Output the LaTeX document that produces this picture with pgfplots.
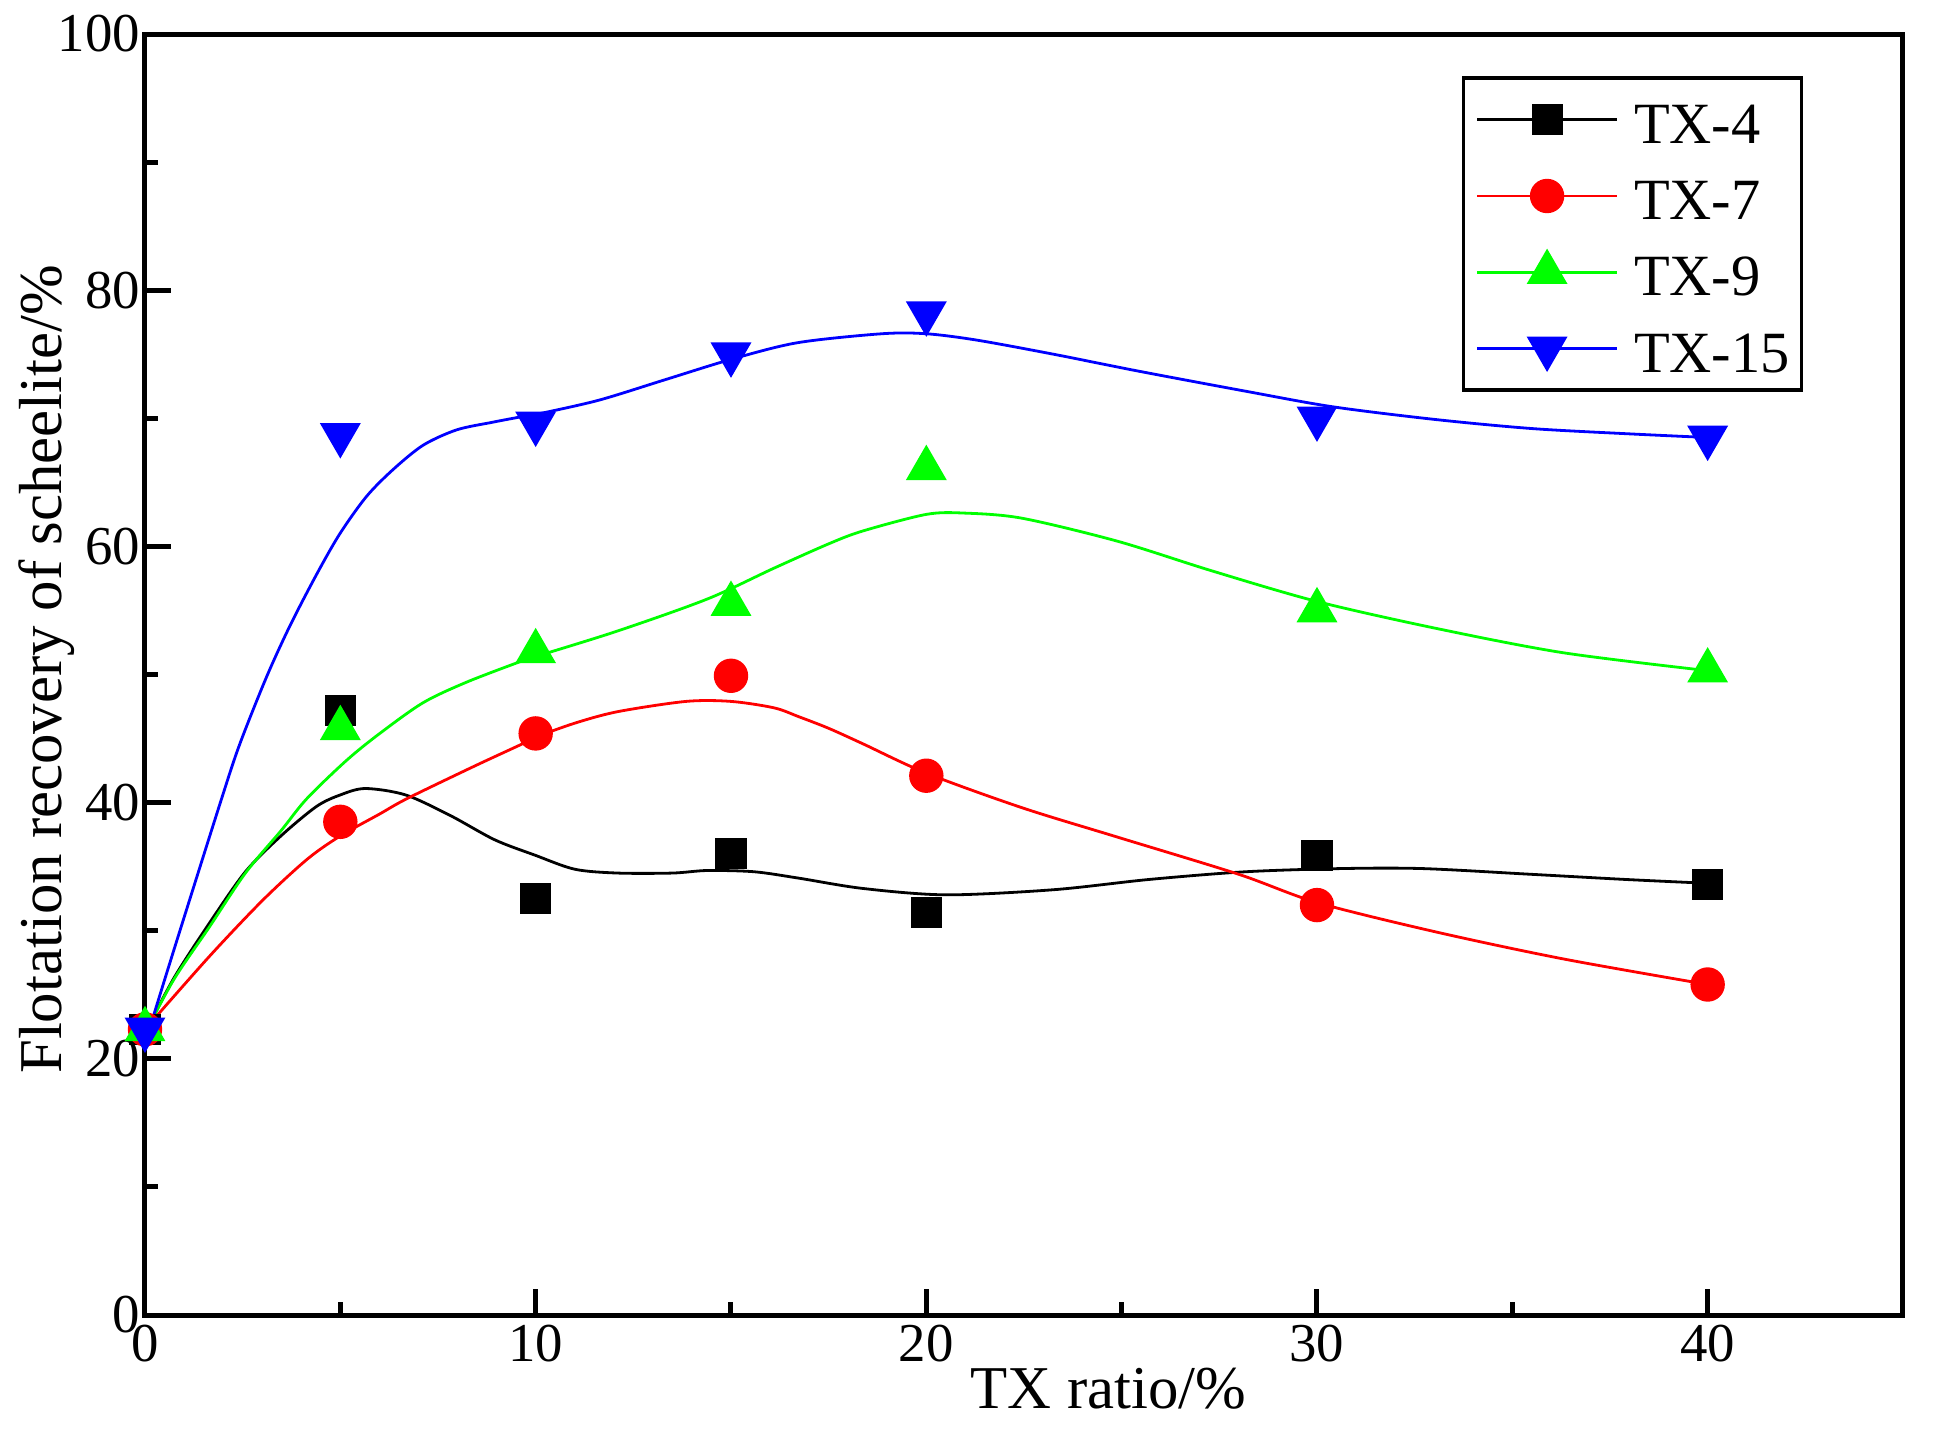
\documentclass[border=0pt]{standalone}
\usepackage{fontspec}
\setmainfont{Liberation Serif}
\usepackage{pgfplots}
\pgfplotsset{compat=1.18}
\definecolor{cgreen}{RGB}{0,255,0}
\definecolor{cred}{RGB}{255,0,0}
\definecolor{cblue}{RGB}{0,0,255}
\begin{document}
\begin{tikzpicture}
\useasboundingbox (-36.25pt,-28.25pt) rectangle (448.75pt,328.75pt);
\begin{axis}[
  at={(0pt,0pt)}, anchor=south west,
  scale only axis, width=439.5pt, height=320.25pt,
  xmin=0, xmax=45, ymin=0, ymax=100,
  xtick={0,10,20,30,40}, minor xtick={5,15,25,35},
  ytick={0,20,40,60,80,100}, minor ytick={10,30,50,70,90},
  tick pos=left, tick align=inside,
  major tick length=6.5pt, minor tick length=3.3pt,
  tick style={line width=1.25pt, black},
  axis line style={line width=1.25pt},
  axis on top=true,
  /pgf/number format/assume math mode=true,
  ticklabel style={font=\fontsize{13.7}{16}\selectfont},
  xticklabel style={inner sep=0pt, yshift=-2.2pt},
  yticklabel style={inner sep=0pt, xshift=-1pt},
  xlabel={TX ratio/\%},
  ylabel={Flotation recovery of scheelite/\%},
  xlabel style={at={(axis description cs:0.548,0)}, anchor=base, yshift=-23.25pt, font=\fontsize{15.2}{18}\selectfont, inner sep=0pt},
  ylabel style={at={(axis description cs:0,0.504)}, anchor=base, yshift=20.75pt, font=\fontsize{15.2}{18}\selectfont, inner sep=0pt},
  legend image code/.code={\draw[mark repeat=2,mark phase=2,#1] plot coordinates {(0pt,0pt) (17.5pt,0pt) (35pt,0pt)};},
  legend style={at={(0.9434,0.9669)}, anchor=north east, draw=black, line width=0.85pt,
    font=\fontsize{14.6}{17}\selectfont, inner xsep=3pt, inner ysep=4.5pt,
    row sep=7.2pt, column sep=3.9pt,
    nodes={inner sep=0pt, text height=11.85pt, text depth=-1.85pt}},
  legend cell align=left,
]
% TX-4
\addplot[black, line width=0.7pt, smooth, forget plot] coordinates {
(0,22.0) (0.74,26.3) (1.65,30.6) (2.57,34.6) (3.48,37.4) (4.39,39.7) (5,40.6) (5.64,41.1) (6.67,40.6) (7.81,39.0) (8.95,37.1) (9.98,35.9) (11.0,34.8) (12.1,34.5) (13.5,34.5) (14.4,34.7) (15.6,34.6) (16.74,34.1) (18.37,33.3) (20.5,32.8) (23.26,33.2) (25.7,34.0) (28.16,34.6) (30.6,34.85) (32.7,34.85) (35.5,34.4) (37.9,34.0) (40,33.7)};
\addplot[only marks, forget plot, mark=square*, mark size=3.7pt, mark options={draw=black, fill=black, line width=0.4pt}] coordinates {
(0,22.3) (5,47.2) (10,32.5) (15,36.0) (20,31.4) (30,35.9) (40,33.6)};
% TX-7
\addplot[cred, line width=0.7pt, smooth, forget plot] coordinates {
(0,22.3) (1.65,28.0) (3.02,32.4) (4.16,35.6) (5,37.4) (6.0,39.1) (6.7,40.3) (8.4,42.8) (9.6,44.5) (10,45.1) (11.0,46.2) (12.1,47.1) (13.85,47.9) (15.0,47.9) (16.1,47.4) (16.74,46.7) (17.5,45.8) (18.37,44.6) (20,42.3) (22.45,39.6) (24.9,37.3) (28.0,34.4) (30,32.2) (33.05,29.9) (36.3,27.8) (40,25.8)};
\addplot[only marks, forget plot, mark=*, mark size=4.1pt, mark options={draw=cred, fill=cred, line width=0.4pt}] coordinates {
(0,22.3) (5,38.5) (10,45.4) (15,49.9) (20,42.1) (30,32.0) (40,25.8)};
% TX-9
\addplot[cgreen, line width=0.7pt, smooth, forget plot] coordinates {
(0,22.0) (0.74,26.2) (1.65,30.3) (2.57,34.5) (3.48,37.8) (4.14,40.3) (5.16,43.3) (6.01,45.4) (7.12,47.8) (8.23,49.4) (9.6,51.0) (10,51.4) (12.1,53.4) (14.4,55.9) (16.1,58.3) (17.5,60.2) (18.37,61.2) (20,62.5) (20.98,62.6) (22.45,62.2) (24.9,60.4) (27.3,58.1) (30,55.7) (33.05,53.6) (36.3,51.7) (40,50.3)};
\addplot[only marks, forget plot, mark=triangle*, mark size=5.5pt, mark options={draw=cgreen, fill=cgreen, line width=0.4pt}] coordinates {
(0,22.3) (5,45.8) (10,51.8) (15,55.5) (20,66.1) (30,55.0) (40,50.3)};
% TX-15
\addplot[cblue, line width=0.7pt, smooth, forget plot] coordinates {
(0,21.2) (0.74,28.5) (1.96,40.3) (2.43,44.6) (3.11,49.8) (3.71,53.8) (4.39,57.8) (4.99,61.0) (5.67,63.9) (6.35,66.0) (7.12,67.9) (7.98,69.1) (8.91,69.7) (9.6,70.1) (10,70.3) (11.6,71.4) (13.3,73.0) (15,74.6) (16.7,75.9) (18.86,76.6) (20,76.6) (21.3,76.1) (23.26,75.0) (25.4,73.7) (28.2,72.1) (30.4,70.9) (33.05,69.9) (35.5,69.2) (37.9,68.8) (40,68.5)};
\addplot[only marks, forget plot, mark=triangle*, mark size=5.5pt, mark options={draw=cblue, fill=cblue, line width=0.4pt, rotate=180}] coordinates {
(0,22.3) (5,68.7) (10,69.6) (15,75.0) (20,78.2) (30,70.0) (40,68.5)};
% legend
\addlegendimage{black, line width=0.7pt, mark=square*, mark size=3.7pt, mark options={fill=black, line width=0.4pt}}
\addlegendentry{TX-4}
\addlegendimage{cred, line width=0.7pt, mark=*, mark size=4.1pt, mark options={fill=cred, line width=0.4pt}}
\addlegendentry{TX-7}
\addlegendimage{cgreen, line width=0.7pt, mark=triangle*, mark size=5.5pt, mark options={fill=cgreen, line width=0.4pt}}
\addlegendentry{TX-9}
\addlegendimage{cblue, line width=0.7pt, mark=triangle*, mark size=5.5pt, mark options={fill=cblue, line width=0.4pt, rotate=180}}
\addlegendentry{TX-15}
\end{axis}
\end{tikzpicture}
\end{document}
